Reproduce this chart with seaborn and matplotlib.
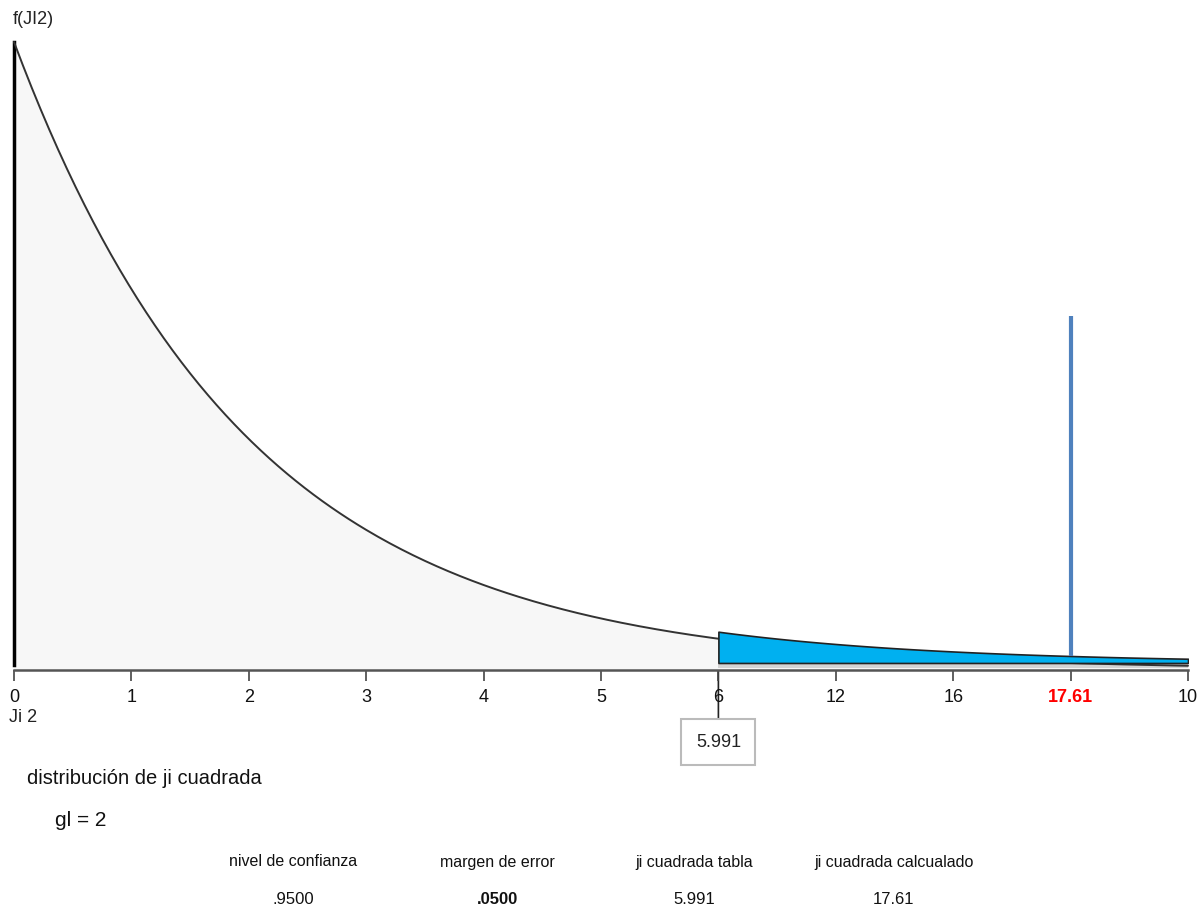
import numpy as np
import pandas as pd
import matplotlib
matplotlib.use('Agg')
import matplotlib.pyplot as plt
import seaborn as sns

# datos de la gráfica
gl = 2
ji_tabla = 5.991
ji_calculado = 17.61
nivel_confianza = '.9500'
margen_error = '.0500'
posiciones_ticks = [0, 1, 2, 3, 4, 5, 6, 7, 8, 9, 10]
etiquetas_ticks = ['0', '1', '2', '3', '4', '5', '6', '12', '16', '17.61', '10']
pos_critico = 6          # posición del valor de tabla en el eje
pos_calculado = 9        # posición del valor calculado en el eje
alto_calculado = 0.282   # altura de la línea azul
encabezados = ['nivel de confianza', 'margen de error', 'ji cuadrada tabla', 'ji cuadrada calcualado']
valores = [nivel_confianza, margen_error, f'{ji_tabla:.3f}', f'{ji_calculado:.2f}']

sns.set_style('white')
plt.rcParams['font.family'] = ['Liberation Sans Narrow', 'Liberation Sans', 'DejaVu Sans']

W, H = 1204, 915
fig = plt.figure(figsize=(W / 100, H / 100), dpi=100)
ax = fig.add_axes([14 / W, 245 / H, 1174 / W, 628 / H])

# curva de densidad ji cuadrada
x = np.linspace(0, 10, 401)
dens = x ** (gl / 2 - 1) * np.exp(-x / 2) / (2 ** (gl / 2))
df = pd.DataFrame({'x': x, 'f': dens})
ax.fill_between(df['x'], 0, df['f'], color='#f7f7f7', zorder=1)
sns.lineplot(data=df, x='x', y='f', ax=ax, color='#333333', linewidth=1.4, zorder=3, clip_on=False)

# región de rechazo
off = 0.0056
cola = df[df['x'] >= pos_critico - 1e-9]
ax.fill_between(cola['x'], 0.0012, off - 0.0008, color='#d4d4d4', zorder=2, linewidth=0)
ax.fill_between(cola['x'], off, cola['f'] + off, color='#00b0f0', zorder=4,
                edgecolor='#222222', linewidth=1.2)

# valor calculado
ax.plot([pos_calculado, pos_calculado], [np.exp(-pos_calculado / 2) / 2 + off, alto_calculado],
        color='#4f81bd', lw=3, zorder=5, solid_capstyle='butt')

ax.set_xlim(0, 10)
ax.set_ylim(0, 0.5)
ax.set_xlabel('')
ax.set_ylabel('')
ax.set_yticks([])
ax.set_xticks(posiciones_ticks)
ax.set_xticklabels(etiquetas_ticks)
ax.tick_params(axis='x', direction='out', length=8, width=1.2, color='#444444',
               labelsize=13, pad=6, bottom=True, labelcolor='#111111')
for t in ax.get_xticklabels():
    if t.get_text() == etiquetas_ticks[pos_calculado]:
        t.set_color('red')
        t.set_fontweight('bold')

for s in ['top', 'right']:
    ax.spines[s].set_visible(False)
ax.spines['bottom'].set_color('#555555')
ax.spines['bottom'].set_linewidth(1.8)
ax.spines['left'].set_color('black')
ax.spines['left'].set_linewidth(2.5)
ax.spines['left'].set_bounds(0.004, 0.5)

# caja con el valor de tabla
ax.annotate(f'{ji_tabla:.3f}', xy=(pos_critico, 0), xycoords='data',
            xytext=(0, -52), textcoords='offset points', ha='center', va='center',
            fontsize=13, color='#222222',
            bbox=dict(boxstyle='square,pad=0.8', fc='white', ec='#bbbbbb', lw=1.5),
            arrowprops=dict(arrowstyle='-', color='#222222', lw=1.2, shrinkA=0, shrinkB=0),
            zorder=0)

# textos
fig.text(13 / W, 1 - 20 / H, 'f(JI2)', ha='left', va='center', fontsize=13, color='#222222')
fig.text(9 / W, 1 - 718 / H, 'Ji 2', ha='left', va='center', fontsize=13, color='#222222')
fig.text(27 / W, 1 - 779 / H, 'distribución de ji cuadrada', ha='left', va='center', fontsize=14.5, color='#111111')
fig.text(55 / W, 1 - 820 / H, f'gl = {gl}', ha='left', va='center', fontsize=15, color='#111111')

centros = [293, 497, 694, 894]
for cx, enc, val in zip(centros, encabezados, valores):
    fig.text(cx / W, 1 - 862 / H, enc, ha='center', va='center', fontsize=11.5, color='#111111')
    peso = 'bold' if val == margen_error else 'normal'
    fig.text(cx / W, 1 - 900 / H, val, ha='center', va='center', fontsize=12, color='#111111', fontweight=peso)

fig.savefig('out.png', dpi=100)
